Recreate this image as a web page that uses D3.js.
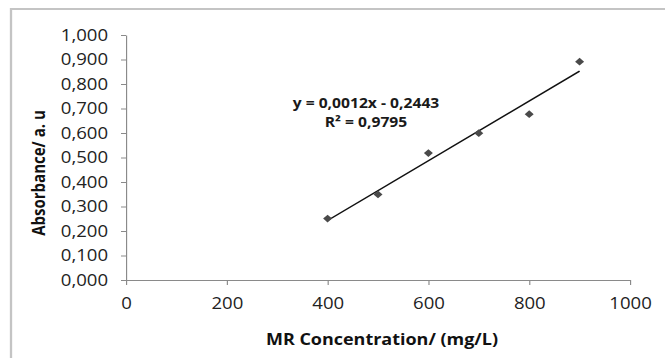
<!DOCTYPE html>
<html>
<head>
<meta charset="utf-8">
<script src="https://cdn.jsdelivr.net/npm/d3@7.9.0/dist/d3.min.js"></script>
<style>
  html, body { margin: 0; padding: 0; background: #fff; overflow: hidden; }
  svg { display: block; }
</style>
</head>
<body>
<div id="chart"></div>
<script>
// data
const concentrations = [400, 500, 600, 700, 800, 900];
const absorbances = [0.251, 0.349, 0.518, 0.599, 0.677, 0.891];
const xTicks = [0, 200, 400, 600, 800, 1000];
const yTicks = [0, 0.1, 0.2, 0.3, 0.4, 0.5, 0.6, 0.7, 0.8, 0.9, 1.0];
const equationLines = ['y = 0,0012x - 0,2443', 'R² = 0,9795'];
const xTitle = 'MR Concentration/ (mg/L)';
const yTitle = 'Absorbance/ a. u';

const width = 665;
const height = 358;
// the original picture is stretched sideways, so draw narrow and scale x
const sx = 1.16;
const X = px => px / sx;

const plot = { left: 126, right: 630, top: 35, bottom: 280 };

const svg = d3.select('#chart')
  .append('svg')
  .attr('width', width)
  .attr('height', height);

const g = svg.append('g').attr('transform', `scale(${sx},1)`);

// outer frame (runs off the right and bottom edge)
g.append('rect')
  .attr('x', X(11))
  .attr('y', 9)
  .attr('width', X(width + 40))
  .attr('height', height + 40)
  .attr('fill', 'none')
  .attr('stroke', '#c4c4c4')
  .attr('stroke-width', 2);

const xScale = d3.scaleLinear()
  .domain([0, 1000])
  .range([X(plot.left), X(plot.right)]);

const yScale = d3.scaleLinear()
  .domain([0, 1])
  .range([plot.bottom, plot.top]);

const fmt = d => d3.format('.3f')(d).replace('.', ',');

// axes
const yAxis = d3.axisLeft(yScale)
  .tickValues(yTicks)
  .tickFormat(fmt)
  .tickSize(X(5))
  .tickSizeOuter(0)
  .tickPadding(X(13));

const xAxis = d3.axisBottom(xScale)
  .tickValues(xTicks)
  .tickFormat(d3.format('d'))
  .tickSize(5)
  .tickSizeOuter(0)
  .tickPadding(13);

const gy = g.append('g')
  .attr('transform', `translate(${X(plot.left)},0)`)
  .call(yAxis);

const gx = g.append('g')
  .attr('transform', `translate(0,${plot.bottom})`)
  .call(xAxis);

[gx, gy].forEach(ax => {
  ax.select('.domain').attr('stroke', '#8a8a8a');
  ax.selectAll('.tick line').attr('stroke', '#8a8a8a');
  ax.selectAll('.tick text')
    .attr('fill', '#222')
    .style('font-family', '"Open Sans", sans-serif')
    .style('font-size', '16px');
});

// least squares trend line from the points
const mx = d3.mean(concentrations);
const my = d3.mean(absorbances);
const sxy = d3.sum(concentrations, (c, i) => (c - mx) * (absorbances[i] - my));
const sxx = d3.sum(concentrations, c => (c - mx) * (c - mx));
const slope = sxy / sxx;
const intercept = my - slope * mx;
const xExt = d3.extent(concentrations);

g.append('line')
  .attr('x1', xScale(xExt[0]))
  .attr('y1', yScale(slope * xExt[0] + intercept))
  .attr('x2', xScale(xExt[1]))
  .attr('y2', yScale(slope * xExt[1] + intercept))
  .attr('stroke', '#111')
  .attr('stroke-width', 1.5);

// diamond markers
const diamond = d3.symbol(d3.symbolSquare, 30);
g.append('g')
  .selectAll('path')
  .data(concentrations)
  .join('path')
  .attr('d', diamond)
  .attr('transform', (d, i) => `translate(${xScale(d)},${yScale(absorbances[i])}) rotate(45)`)
  .attr('fill', '#4a4a4a');

// equation label
g.append('g')
  .selectAll('text')
  .data(equationLines)
  .join('text')
  .attr('x', X(366))
  .attr('y', (d, i) => 108 + i * 19)
  .attr('text-anchor', 'middle')
  .attr('fill', '#1a1a1a')
  .style('font-family', '"Open Sans", sans-serif')
  .style('font-weight', 'bold')
  .style('font-size', '13.5px')
  .text(d => d);

// axis titles
g.append('text')
  .attr('x', X(382))
  .attr('y', 345)
  .attr('text-anchor', 'middle')
  .attr('fill', '#111')
  .style('font-family', '"Open Sans", sans-serif')
  .style('font-weight', 'bold')
  .style('font-size', '15.5px')
  .text(xTitle);

g.append('text')
  .attr('transform', `translate(${X(45)},173) rotate(-90)`)
  .attr('text-anchor', 'middle')
  .attr('fill', '#111')
  .style('font-family', '"Open Sans", sans-serif')
  .style('font-weight', 'bold')
  .style('font-size', '15px')
  .text(yTitle);
</script>
</body>
</html>
